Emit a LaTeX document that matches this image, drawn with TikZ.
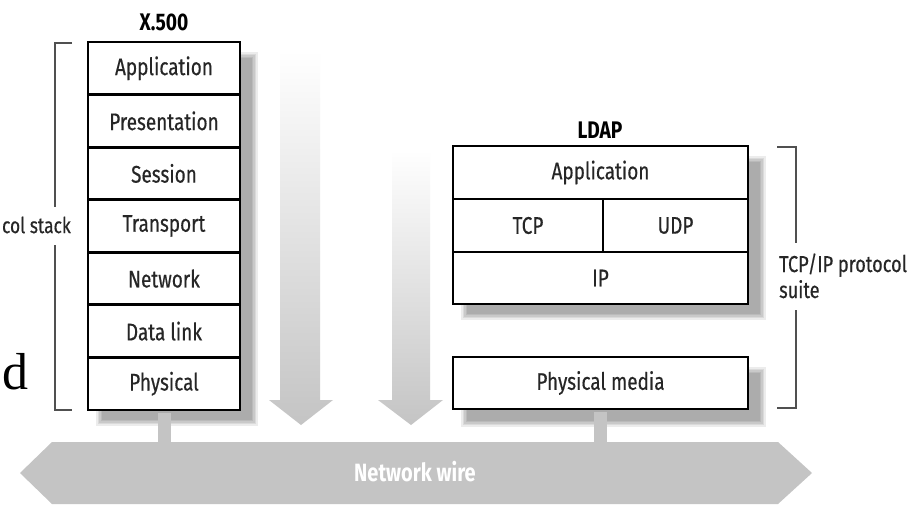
\documentclass[tikz,border=0pt]{standalone}
\usepackage{fontspec}
\setmainfont{Fira Sans}[FakeStretch=0.80]
\newfontfamily\cellfont{Fira Sans}[FakeStretch=0.79, FakeBold=0.4]
\newfontfamily\serifd{Liberation Serif}
\usetikzlibrary{calc}
\definecolor{wiregray}{HTML}{C4C4C4}
\definecolor{txtgray}{HTML}{262626}
\definecolor{brk}{HTML}{505050}
\tikzset{
  cell/.style={draw=black, line width=2.8pt, fill=white, text=txtgray,
    font=\cellfont\fontsize{24}{26}\selectfont, inner sep=0pt, minimum height=52.57pt},
  title/.style={font=\bfseries\fontsize{24}{26}\selectfont, text=black, inner sep=0pt},
  bracketline/.style={draw=brk, line width=1.4pt},
  lbl/.style={text=txtgray, font=\cellfont\fontsize{23}{26}\selectfont, inner sep=0pt},
  bar/.style={draw=wiregray, line width=13pt},
  downarrow/.style={top color=white, bottom color=wiregray},
  wirefill/.style={fill=wiregray},
  wiretext/.style={text=white, font=\bfseries\fontsize{25}{27}\selectfont, inner sep=0pt},
}
\newcommand\softshadow[4]{%
  \foreach \i in {0,...,4}{%
    \fill[black, opacity=0.075] (#1+\i*1.6,#2+\i*1.6) rectangle (#3-\i*1.6,#4-\i*1.6);}}
\begin{document}
\begin{tikzpicture}[x=1pt,y=-1pt]
\useasboundingbox (0,0) rectangle (916,507);
\fill[white] (0,0) rectangle (916,507);

% shadows
\softshadow{96}{52}{258}{426}
\softshadow{461}{156}{766}{320}
\softshadow{461}{367}{766}{427}

% faded down arrows
\shade[downarrow] (280,50) -- (320,50) -- (320,400) -- (333,400) -- (301,425)
  -- (269,400) -- (280,400) -- cycle;
\shade[downarrow] (392,150) -- (430,150) -- (430,400) -- (443,400) -- (411,425)
  -- (378,400) -- (392,400) -- cycle;

% network wire
\fill[wirefill] (20,473) -- (52,442) -- (778,442) -- (812,473) -- (778,504)
  -- (52,504) -- cycle;
\node[wiretext] (wire) at (415,472) {Network wire};
\coordinate (wiretop) at (415,443);

% X.500 stack
\node[title] (xtitle) at (164,22) {X.500};
\node[cell, minimum width=152pt] (x-app) at (164,68.3) {Application};
\node[cell, minimum width=152pt] (x-pre) at (164,120.9) {Presentation};
\node[cell, minimum width=152pt] (x-ses) at (164,173.4) {Session};
\node[cell, minimum width=152pt] (x-tra) at (164,226.0) {Transport};
\node[cell, minimum width=152pt] (x-net) at (164,278.6) {Network};
\node[cell, minimum width=152pt] (x-dat) at (164,331.1) {Data link};
\node[cell, minimum width=152pt] (x-phy) at (164,383.7) {Physical};

% LDAP stack
\node[title] (ltitle) at (600,130) {LDAP};
\node[cell, minimum width=295pt, minimum height=53pt] (l-app) at (600.5,172.5) {Application};
\node[cell, minimum width=150pt, minimum height=53pt] (l-tcp) at (528,225.5) {TCP};
\node[cell, minimum width=145pt, minimum height=53pt] (l-udp) at (675.5,225.5) {UDP};
\node[cell, minimum width=295pt, minimum height=52pt] (l-ip) at (600.5,278) {IP};
\node[cell, minimum width=295pt, minimum height=52pt] (l-phy) at (600.5,383) {Physical media};

% connectors to the wire
\draw[bar] ([yshift=-1.4pt]x-phy.south) -- (x-phy.south |- wiretop);
\draw[bar] ([yshift=-1.4pt]l-phy.south) -- (l-phy.south |- wiretop);

% brackets and labels
\draw[bracketline] (72,43) -- (55,43) -- (55,207);
\draw[bracketline] (55,245) -- (55,410) -- (72,410);
\node[lbl, anchor=east, font=\cellfont\fontsize{22}{24}\selectfont] (pstack) at (71,225) {col stack};

\draw[bracketline] (777,147) -- (796,147) -- (796,243);
\draw[bracketline] (796,310) -- (796,408) -- (777,408);
\node[lbl, anchor=base west] (suite1) at (779,272) {TCP/IP protocol};
\node[lbl, anchor=base west] (suite2) at (779,298) {suite};

\node[font=\serifd\fontsize{52}{52}\selectfont, anchor=base west, inner sep=0pt] (dchar) at (2,389) {d};
\end{tikzpicture}
\end{document}
